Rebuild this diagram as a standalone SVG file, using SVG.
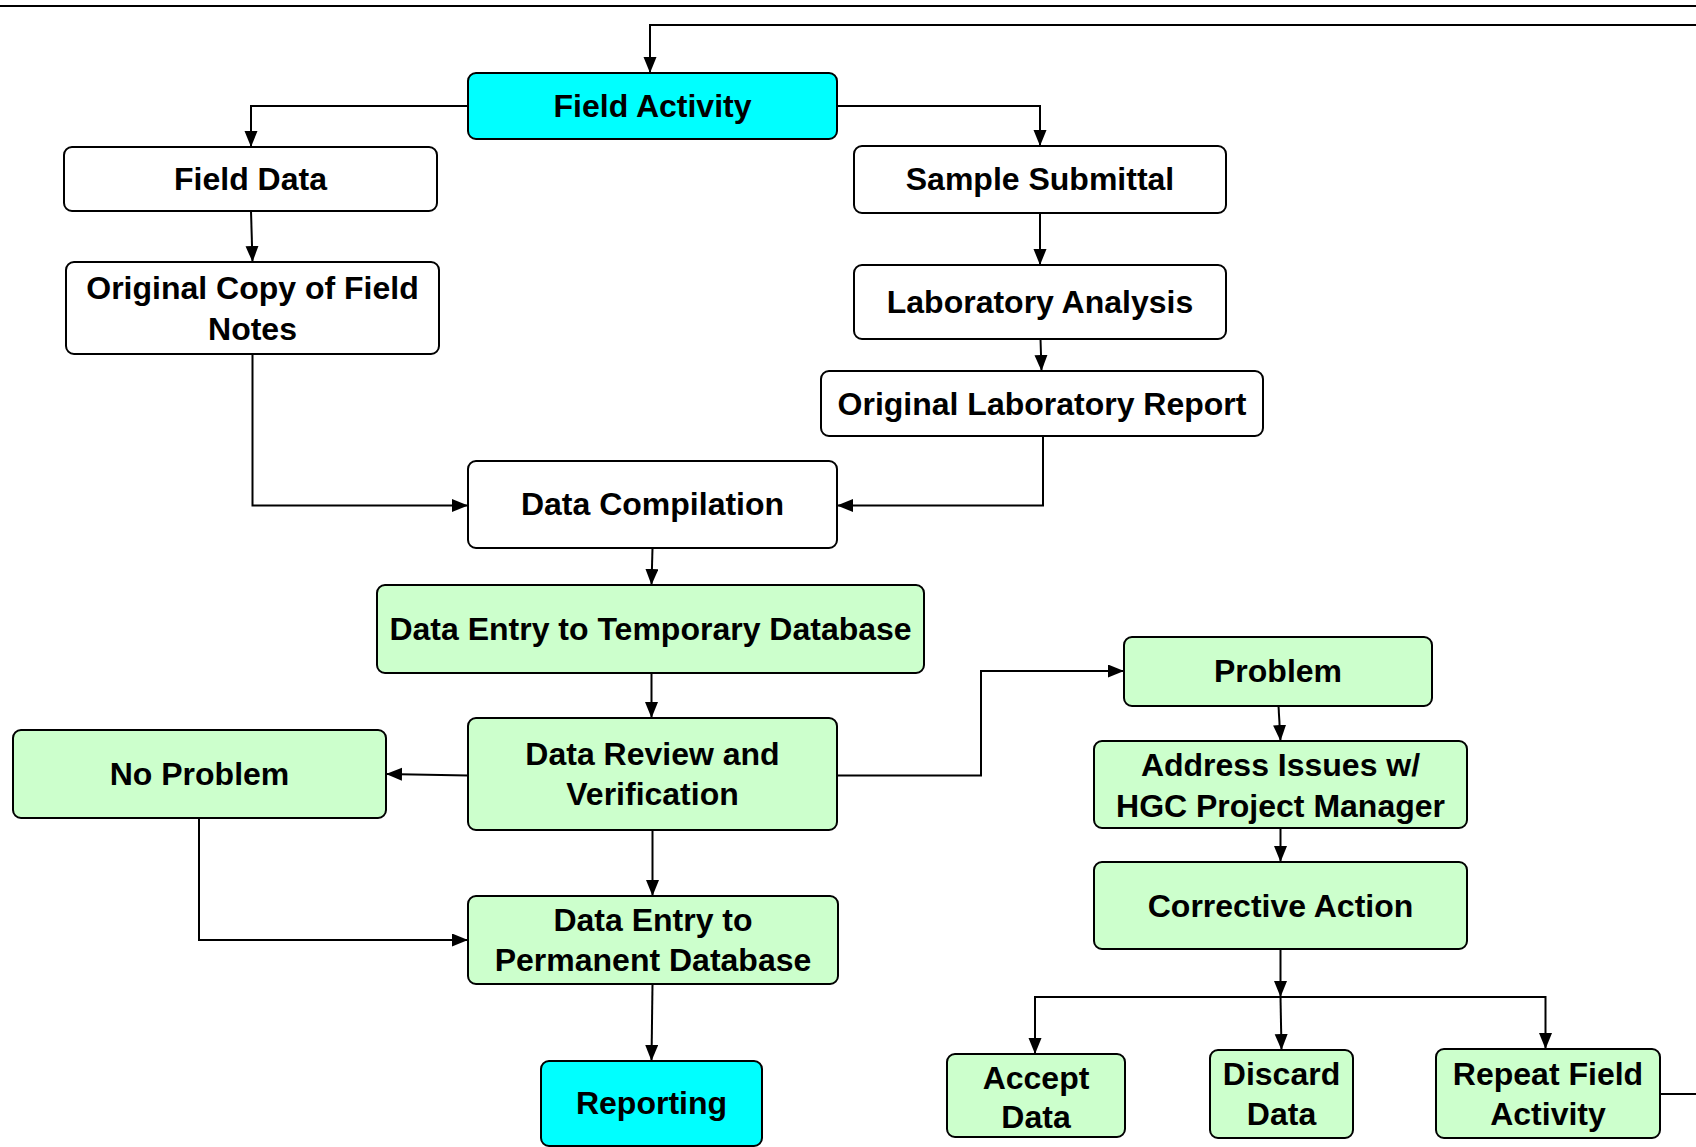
<svg xmlns="http://www.w3.org/2000/svg" width="1696" height="1147" viewBox="0 0 1696 1147">
<style>
.box{stroke:#000;stroke-width:2;}
.cyan{fill:#00FFFF;}
.green{fill:#CCFFCC;}
.white{fill:#FFFFFF;}
.lbl{font-family:"Liberation Sans",Arial,sans-serif;font-weight:bold;font-size:32px;fill:#000;text-anchor:middle;}
.con{fill:none;stroke:#000;stroke-width:2;}
</style>
<defs>
<marker id="ah" markerUnits="userSpaceOnUse" markerWidth="17" markerHeight="14" refX="16" refY="6.5" orient="auto">
<path d="M0,0 L16,6.5 L0,13 z" fill="#000"/>
</marker>
</defs>
<rect x="0" y="0" width="1696" height="1147" fill="#FFFFFF"/>
<line x1="0" y1="6" x2="1696" y2="6" stroke="#000" stroke-width="2"/>

<g id="connectors">
<path class="con" d="M1660,1094 H1710 V25 H650 V73" marker-end="url(#ah)"/>
<path class="con" d="M468,106 H251 V147" marker-end="url(#ah)"/>
<path class="con" d="M837,106 H1040 V146" marker-end="url(#ah)"/>
<path class="con" d="M251,211 L252.5,262" marker-end="url(#ah)"/>
<path class="con" d="M1040,213 V265" marker-end="url(#ah)"/>
<path class="con" d="M1040.5,339 L1041.5,371" marker-end="url(#ah)"/>
<path class="con" d="M252.5,354 V505.5 H468" marker-end="url(#ah)"/>
<path class="con" d="M1043,436 V505.5 H837" marker-end="url(#ah)"/>
<path class="con" d="M652.5,548 L651.5,585" marker-end="url(#ah)"/>
<path class="con" d="M651.5,673 V718" marker-end="url(#ah)"/>
<path class="con" d="M468,775.5 L386,774" marker-end="url(#ah)"/>
<path class="con" d="M837,775.5 H981 V671 H1124" marker-end="url(#ah)"/>
<path class="con" d="M1278.5,706 L1280.5,741" marker-end="url(#ah)"/>
<path class="con" d="M1280.5,828 V862" marker-end="url(#ah)"/>
<path class="con" d="M652.5,830 V896" marker-end="url(#ah)"/>
<path class="con" d="M199,818 V940 H468" marker-end="url(#ah)"/>
<path class="con" d="M652.5,984 L651.5,1061" marker-end="url(#ah)"/>
<path class="con" d="M1280.5,949 V997" marker-end="url(#ah)"/>
<path class="con" d="M1280.5,997 H1035 V1054" marker-end="url(#ah)"/>
<path class="con" d="M1280.5,997 H1545.5 V1049" marker-end="url(#ah)"/>
<path class="con" d="M1280.5,997 L1281.5,1050" marker-end="url(#ah)"/>
</g>

<g id="field-activity">
<rect class="box cyan" x="468" y="73" width="369" height="66" rx="8"/>
<text class="lbl" x="652.5" y="117">Field Activity</text>
</g>
<g id="field-data">
<rect class="box white" x="64" y="147" width="373" height="64" rx="8"/>
<text class="lbl" x="250.5" y="190">Field Data</text>
</g>
<g id="sample-submittal">
<rect class="box white" x="854" y="146" width="372" height="67" rx="8"/>
<text class="lbl" x="1040" y="190">Sample Submittal</text>
</g>
<g id="original-copy">
<rect class="box white" x="66" y="262" width="373" height="92" rx="8"/>
<text class="lbl" x="252.5" y="299">Original Copy of Field</text>
<text class="lbl" x="252.5" y="340">Notes</text>
</g>
<g id="lab-analysis">
<rect class="box white" x="854" y="265" width="372" height="74" rx="8"/>
<text class="lbl" x="1040" y="313">Laboratory Analysis</text>
</g>
<g id="orig-lab-report">
<rect class="box white" x="821" y="371" width="442" height="65" rx="8"/>
<text class="lbl" x="1042" y="415">Original Laboratory Report</text>
</g>
<g id="data-compilation">
<rect class="box white" x="468" y="461" width="369" height="87" rx="8"/>
<text class="lbl" x="652.5" y="515">Data Compilation</text>
</g>
<g id="data-entry-temp">
<rect class="box green" x="377" y="585" width="547" height="88" rx="8"/>
<text class="lbl" x="650.5" y="640">Data Entry to Temporary Database</text>
</g>
<g id="data-review">
<rect class="box green" x="468" y="718" width="369" height="112" rx="8"/>
<text class="lbl" x="652.5" y="765">Data Review and</text>
<text class="lbl" x="652.5" y="805">Verification</text>
</g>
<g id="no-problem">
<rect class="box green" x="13" y="730" width="373" height="88" rx="8"/>
<text class="lbl" x="199.5" y="785">No Problem</text>
</g>
<g id="problem">
<rect class="box green" x="1124" y="637" width="308" height="69" rx="8"/>
<text class="lbl" x="1278" y="682">Problem</text>
</g>
<g id="address-issues">
<rect class="box green" x="1094" y="741" width="373" height="87" rx="8"/>
<text class="lbl" x="1280.5" y="776">Address Issues w/</text>
<text class="lbl" x="1280.5" y="817">HGC Project Manager</text>
</g>
<g id="corrective-action">
<rect class="box green" x="1094" y="862" width="373" height="87" rx="8"/>
<text class="lbl" x="1280.5" y="917">Corrective Action</text>
</g>
<g id="data-entry-perm">
<rect class="box green" x="468" y="896" width="370" height="88" rx="8"/>
<text class="lbl" x="653" y="931">Data Entry to</text>
<text class="lbl" x="653" y="971">Permanent Database</text>
</g>
<g id="reporting">
<rect class="box cyan" x="541" y="1061" width="221" height="85" rx="8"/>
<text class="lbl" x="651.5" y="1114">Reporting</text>
</g>
<g id="accept-data">
<rect class="box green" x="947" y="1054" width="178" height="83" rx="8"/>
<text class="lbl" x="1036" y="1089">Accept</text>
<text class="lbl" x="1036" y="1128">Data</text>
</g>
<g id="discard-data">
<rect class="box green" x="1210" y="1050" width="143" height="88" rx="8"/>
<text class="lbl" x="1281.5" y="1085">Discard</text>
<text class="lbl" x="1281.5" y="1125">Data</text>
</g>
<g id="repeat-field">
<rect class="box green" x="1436" y="1049" width="224" height="89" rx="8"/>
<text class="lbl" x="1548" y="1085">Repeat Field</text>
<text class="lbl" x="1548" y="1125">Activity</text>
</g>
</svg>
